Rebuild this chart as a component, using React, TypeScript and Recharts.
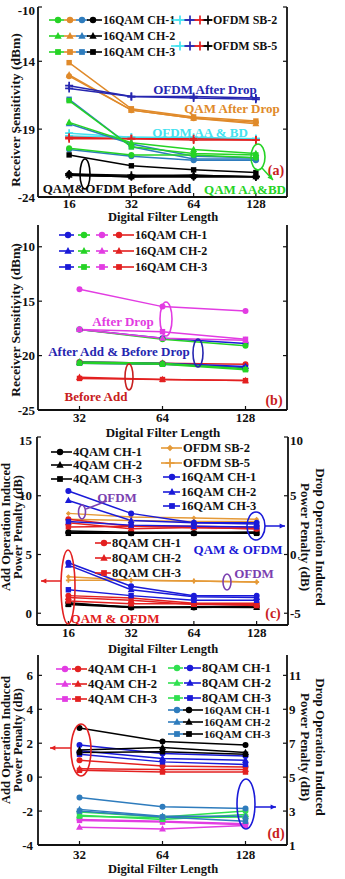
import React from "react";
import { LineChart, Line, XAxis, YAxis } from "recharts";

const FONT = "'Liberation Serif', 'DejaVu Serif', serif";

// filter lengths
const LEN_4 = ["16", "32", "64", "128"];
const LEN_3 = ["32", "64", "128"];

// (a) receiver sensitivity, dBm — rows are CH-1..CH-3 or SB-2/SB-5
const A_QAM_GREEN = [
  [-20.4, -20.9, -20.9, -21.1],
  [-18.5, -20.0, -20.5, -20.8],
  [-16.9, -20.3, -20.8, -20.9],
];
const A_QAM_ORANGE = [
  [-15.1, -17.6, -18.2, -18.5],
  [-15.0, -17.6, -18.2, -18.6],
  [-14.1, -17.5, -18.1, -18.4],
];
const A_QAM_STEEL = [
  [-20.5, -21.0, -21.3, -21.3],
  [-18.6, -20.1, -21.0, -21.1],
  [-16.8, -20.3, -21.2, -21.2],
];
const A_QAM_BLACK = [
  [-22.3, -22.5, -22.5, -22.5],
  [-22.4, -22.5, -22.4, -22.5],
  [-20.9, -21.7, -22.0, -22.2],
];
const A_OFDM_CYAN = [
  [-19.3, -19.6, -19.7, -19.7],
  [-19.5, -19.6, -19.6, -19.7],
];
const A_OFDM_NAVY = [
  [-15.8, -16.6, -16.6, -16.7],
  [-16.0, -16.6, -16.7, -16.8],
];
const A_OFDM_RED = [
  [-19.6, -19.7, -19.7, -19.8],
  [-19.7, -19.7, -19.8, -19.8],
];
const A_OFDM_BLACK = [
  [-22.3, -22.4, -22.4, -22.5],
  [-22.4, -22.5, -22.5, -22.5],
];

// (b) receiver sensitivity, dBm
const B_BLUE = [
  [-17.6, -18.4, -18.9],
  [-20.6, -20.7, -21.0],
  [-20.7, -20.8, -21.1],
];
const B_GREEN = [
  [-17.6, -18.5, -19.1],
  [-20.6, -20.7, -21.2],
  [-20.7, -20.8, -21.3],
];
const B_MAGENTA = [
  [-13.9, -15.5, -15.9],
  [-17.6, -18.4, -18.6],
  [-17.6, -17.8, -18.5],
];
const B_RED = [
  [-20.6, -20.7, -20.8],
  [-22.0, -22.2, -22.3],
  [-22.1, -22.2, -22.3],
];

// (c) add penalty (left axis) and drop penalty (right axis), dB
const C_ADD_4QAM = [
  [0.9, 0.5, 0.5, 0.55],
  [0.8, 0.55, 0.5, 0.5],
  [0.75, 0.5, 0.55, 0.6],
];
const C_ADD_8QAM = [
  [1.5, 1.3, 0.85, 0.85],
  [1.35, 1.1, 0.75, 0.75],
  [1.05, 0.8, 0.8, 0.65],
];
const C_ADD_16QAM = [
  [4.3, 2.3, 1.5, 1.5],
  [4.1, 2.0, 1.4, 1.35],
  [2.0, 1.5, 1.1, 1.1],
];
const C_ADD_OFDM = [
  [3.1, 2.8, 2.75, 2.65],
  [2.8, 2.8, 2.75, 2.65],
];
const C_DROP_4QAM = [
  [1.9, 1.8, 1.8, 1.9],
  [2.0, 1.9, 1.9, 1.9],
  [1.8, 1.8, 1.8, 1.8],
];
const C_DROP_8QAM = [
  [3.0, 2.4, 2.3, 2.2],
  [2.7, 2.2, 2.3, 2.2],
  [2.35, 2.4, 2.4, 2.3],
];
const C_DROP_16QAM = [
  [5.4, 3.5, 2.7, 2.7],
  [4.6, 2.9, 2.7, 2.6],
  [2.8, 2.5, 2.4, 2.35],
];
const C_DROP_OFDM = [
  [3.5, 3.2, 3.1, 3.0],
  [3.0, 2.9, 2.8, 2.8],
];

// (d) add penalty (left axis) and drop penalty (right axis), dB
const D_ADD_4QAM = [
  [1.0, 0.65, 0.6],
  [0.5, 0.45, 0.45],
  [0.4, 0.3, 0.3],
];
const D_ADD_8QAM = [
  [1.9, 1.4, 1.25],
  [1.55, 1.1, 1.0],
  [1.35, 0.9, 0.75],
];
const D_ADD_16QAM = [
  [2.9, 2.1, 1.9],
  [1.6, 1.75, 1.45],
  [1.45, 1.5, 1.35],
];
const D_DROP_4QAM = [
  [2.5, 2.4, 2.25],
  [2.05, 1.95, 2.15],
  [2.45, 2.35, 2.2],
];
const D_DROP_8QAM = [
  [2.95, 2.65, 3.0],
  [2.75, 2.5, 2.8],
  [2.7, 2.6, 2.65],
];
const D_DROP_16QAM = [
  [3.8, 3.25, 3.15],
  [3.1, 2.7, 2.7],
  [3.0, 2.65, 2.4],
];

const GREEN = "#25d325";
const ORANGE = "#e08a2a";
const STEEL = "#2e7cbd";
const BLACK = "#000000";
const CYAN = "#44e2f0";
const NAVY = "#2626b0";
const RED = "#e32020";
const MAGENTA = "#e23ce2";
const BLUE = "#1a1ad8";
const ORANGE_C = "#e59a38";
const PURPLE = "#7b40b0";
const GREEN_D = "#30e050";

type Shape = "circle" | "triangle" | "square" | "plus" | "diamond";
const CH: Shape[] = ["circle", "triangle", "square"];
const SB: Shape[] = ["diamond", "plus"];

type Spec = { key: string; values: number[]; color: string; shape: Shape; axis: "l" | "r"; r: number };

function group(id: string, rows: number[][], color: string, axis: "l" | "r", shapes: Shape[] = CH, r = 3): Spec[] {
  return rows.map((values, k) => ({ key: `${id}${k}`, values, color, shape: shapes[k], axis, r }));
}

function Marker({ cx, cy, shape, color, r = 3 }: { cx: number; cy: number; shape: Shape; color: string; r?: number }) {
  switch (shape) {
    case "triangle":
      return (
        <polygon
          points={`${cx},${cy - r * 1.25} ${cx - r * 1.15},${cy + r * 0.85} ${cx + r * 1.15},${cy + r * 0.85}`}
          fill={color}
        />
      );
    case "square":
      return <rect x={cx - r * 0.9} y={cy - r * 0.9} width={r * 1.8} height={r * 1.8} fill={color} />;
    case "plus":
      return <path d={`M${cx - r},${cy}H${cx + r}M${cx},${cy - r}V${cy + r}`} stroke={color} strokeWidth={1.7} fill="none" />;
    case "diamond":
      return <polygon points={`${cx},${cy - r} ${cx + r},${cy} ${cx},${cy + r} ${cx - r},${cy}`} fill={color} />;
    default:
      return <circle cx={cx} cy={cy} r={r} fill={color} />;
  }
}

const makeDot = (s: Spec) => (p: any) => (
  <g key={`${s.key}-${p.index}`}>
    {p.cx != null && p.cy != null ? <Marker cx={p.cx} cy={p.cy} shape={s.shape} color={s.color} r={s.r} /> : null}
  </g>
);

function buildRows(lengths: string[], specs: Spec[]) {
  return lengths.map((len, i) => {
    const row: Record<string, number | string> = { x: i + 1, len };
    specs.forEach((s) => {
      row[s.key] = s.values[i];
    });
    return row;
  });
}

type PanelProps = {
  top: number;
  bottom: number;
  left: number;
  right: number;
  lengths: string[];
  specs: Spec[];
  yDomain: [number, number];
  yTicks: number[];
  rDomain: [number, number];
  rTicks: number[];
  showRight: boolean;
  xTickMargin: number;
  yTickMargin: number;
};

const tickStyle = { fill: "#111", fontSize: 13, fontWeight: 700, fontFamily: FONT };
const axisLine = { stroke: "#111", strokeWidth: 1.8 };
const tickLine = { stroke: "#111", strokeWidth: 1.2 };

function Panel(p: PanelProps) {
  const mTop = 5;
  const xH = 26;
  const height = p.bottom - p.top + mTop + xH;
  const n = p.lengths.length;
  const xTicks = p.lengths.map((_, i) => i + 1);
  const rows = buildRows(p.lengths, p.specs);
  const empty = () => "";
  return (
    <div style={{ position: "absolute", left: 0, top: p.top - mTop }}>
      <LineChart width={345} height={height} data={rows} margin={{ top: mTop, right: 0, bottom: 0, left: 0 }}>
        <XAxis
          xAxisId="b"
          dataKey="x"
          type="number"
          domain={[0.5, n + 0.5]}
          ticks={xTicks}
          tickFormatter={(v: number) => p.lengths[v - 1]}
          height={xH}
          tickSize={-4}
          tickMargin={p.xTickMargin}
          axisLine={axisLine}
          tickLine={tickLine}
          tick={tickStyle}
        />
        <XAxis
          xAxisId="t"
          orientation="top"
          dataKey="x"
          type="number"
          domain={[0.5, n + 0.5]}
          ticks={xTicks}
          tickFormatter={empty}
          height={0}
          tickSize={-4}
          axisLine={axisLine}
          tickLine={tickLine}
        />
        <YAxis
          yAxisId="l"
          type="number"
          width={p.left}
          domain={p.yDomain}
          ticks={p.yTicks}
          allowDataOverflow
          tickSize={-4}
          tickMargin={p.yTickMargin}
          axisLine={axisLine}
          tickLine={tickLine}
          tick={tickStyle}
        />
        <YAxis
          yAxisId="r"
          orientation="right"
          type="number"
          width={345 - p.right}
          domain={p.rDomain}
          ticks={p.rTicks}
          allowDataOverflow
          tickSize={-4}
          tickMargin={6}
          tickFormatter={p.showRight ? undefined : empty}
          axisLine={axisLine}
          tickLine={tickLine}
          tick={tickStyle}
        />
        {p.specs.map((s) => (
          <Line
            key={s.key}
            xAxisId="b"
            yAxisId={s.axis}
            dataKey={s.key}
            stroke={s.color}
            strokeWidth={1.5}
            dot={makeDot(s)}
            activeDot={false}
            isAnimationActive={false}
          />
        ))}
      </LineChart>
    </div>
  );
}

const SPECS_A: Spec[] = [
  ...group("aqo", A_QAM_ORANGE, ORANGE, "l"),
  ...group("aon", A_OFDM_NAVY, NAVY, "l", ["plus", "plus"], 4),
  ...group("aoc", A_OFDM_CYAN, CYAN, "l", ["plus", "plus"], 4),
  ...group("aor", A_OFDM_RED, RED, "l", ["plus", "plus"], 4),
  ...group("aqs", A_QAM_STEEL, STEEL, "l"),
  ...group("aqg", A_QAM_GREEN, GREEN, "l"),
  ...group("aqb", A_QAM_BLACK, BLACK, "l"),
  ...group("aob", A_OFDM_BLACK, BLACK, "l", ["plus", "plus"], 4),
];

const SPECS_B: Spec[] = [
  ...group("br", B_RED, RED, "l"),
  ...group("bb", B_BLUE, BLUE, "l"),
  ...group("bg", B_GREEN, GREEN, "l"),
  ...group("bm", B_MAGENTA, MAGENTA, "l"),
];

const SPECS_C: Spec[] = [
  ...group("cao", C_ADD_OFDM, ORANGE_C, "l", SB, 2.5),
  ...group("ca4", C_ADD_4QAM, BLACK, "l"),
  ...group("ca8", C_ADD_8QAM, RED, "l"),
  ...group("ca16", C_ADD_16QAM, BLUE, "l"),
  ...group("cdo", C_DROP_OFDM, ORANGE_C, "r", SB, 2.5),
  ...group("cd4", C_DROP_4QAM, BLACK, "r"),
  ...group("cd8", C_DROP_8QAM, RED, "r"),
  ...group("cd16", C_DROP_16QAM, BLUE, "r"),
];

const SPECS_D: Spec[] = [
  ...group("dd4", D_DROP_4QAM, MAGENTA, "r"),
  ...group("dd8", D_DROP_8QAM, GREEN_D, "r"),
  ...group("dd16", D_DROP_16QAM, STEEL, "r"),
  ...group("da4", D_ADD_4QAM, RED, "l"),
  ...group("da8", D_ADD_8QAM, BLUE, "l"),
  ...group("da16", D_ADD_16QAM, BLACK, "l"),
];

type Mark = [number, string, Shape];

function LegendItem({ y, marks, text, tx, size = 12.5, end }: { y: number; marks: Mark[]; text: string; tx: number; size?: number; end?: number }) {
  const last = end ?? tx - 1;
  return (
    <g>
      {marks.map(([cx, color], i) => (
        <line
          key={`l${i}`}
          x1={i === 0 ? cx - 9 : cx - 6}
          x2={i === marks.length - 1 ? last : cx + 6}
          y1={y}
          y2={y}
          stroke={color}
          strokeWidth={1.6}
        />
      ))}
      {marks.map(([cx, color, shape], i) => (
        <Marker key={`m${i}`} cx={cx} cy={y} shape={shape} color={color} r={shape === "plus" ? 4.5 : 3.2} />
      ))}
      <text x={tx} y={y} dy="0.35em" fontFamily={FONT} fontWeight={700} fontSize={size} fill="#111">
        {text}
      </text>
    </g>
  );
}

function Label({ x, y, children, color = "#111", size = 13, anchor = "middle", rotate = 0 }: any) {
  return (
    <text
      x={x}
      y={y}
      dy="0.35em"
      textAnchor={anchor}
      fontFamily={FONT}
      fontWeight={700}
      fontSize={size}
      fill={color}
      transform={rotate ? `rotate(${rotate} ${x} ${y})` : undefined}
    >
      {children}
    </text>
  );
}

function Arrow({ x1, y1, x2, y2, color }: { x1: number; y1: number; x2: number; y2: number; color: string }) {
  const a = Math.atan2(y2 - y1, x2 - x1);
  const h = 6;
  const p1 = `${x2 - h * Math.cos(a - 0.45)},${y2 - h * Math.sin(a - 0.45)}`;
  const p2 = `${x2 - h * Math.cos(a + 0.45)},${y2 - h * Math.sin(a + 0.45)}`;
  return (
    <g>
      <line x1={x1} y1={y1} x2={x2} y2={y2} stroke={color} strokeWidth={1.5} />
      <polygon points={`${x2},${y2} ${p1} ${p2}`} fill={color} />
    </g>
  );
}

function Ell({ cx, cy, rx, ry, color }: { cx: number; cy: number; rx: number; ry: number; color: string }) {
  return <ellipse cx={cx} cy={cy} rx={rx} ry={ry} fill="none" stroke={color} strokeWidth={1.6} />;
}

function Overlay() {
  const qa = (shape: Shape): Mark[] => [
    [58, GREEN, shape],
    [70, ORANGE, shape],
    [82, STEEL, shape],
    [93, BLACK, shape],
  ];
  const oa: Mark[] = [
    [180, CYAN, "plus"],
    [190, NAVY, "plus"],
    [200, RED, "plus"],
    [208, BLACK, "plus"],
  ];
  const qb = (shape: Shape): Mark[] => [
    [68, BLUE, shape],
    [84, GREEN, shape],
    [102, MAGENTA, shape],
    [119, RED, shape],
  ];
  return (
    <svg width={345} height={879} style={{ position: "absolute", left: 0, top: 0, pointerEvents: "none" }}>
      {/* (a) */}
      <LegendItem y={20} marks={qa("circle")} text="16QAM CH-1" tx={103} size={12} />
      <LegendItem y={36} marks={qa("triangle")} text="16QAM CH-2" tx={103} size={12} />
      <LegendItem y={52} marks={qa("square")} text="16QAM CH-3" tx={103} size={12} />
      <LegendItem y={20} marks={oa} text="OFDM SB-2" tx={213} size={12} />
      <LegendItem y={46} marks={oa} text="OFDM SB-5" tx={213} size={12} />
      <Label x={205} y={89} color={NAVY}>OFDM After Drop</Label>
      <Label x={232} y={108} color={ORANGE}>QAM After Drop</Label>
      <Label x={200} y={132} color={CYAN}>OFDM AA &amp; BD</Label>
      <Label x={117} y={188}>QAM&amp;OFDM Before Add</Label>
      <Label x={245} y={189} color={GREEN}>QAM AA&amp;BD</Label>
      <Label x={276} y={170} color="#c82020" size={14}>(a)</Label>
      <Ell cx={85} cy={174} rx={5} ry={15} color={BLACK} />
      <Ell cx={258} cy={157} rx={7} ry={13} color={GREEN} />
      <Arrow x1={262} y1={168} x2={273} y2={180} color={GREEN} />
      <Label x={15} y={110} size={13.5} rotate={-90}>Receiver Sensitivity (dBm)</Label>
      <Label x={163} y={217} size={12.5}>Digital Filter Length</Label>

      {/* (b) */}
      <LegendItem y={235} marks={qb("circle")} text="16QAM CH-1" tx={135} size={12} />
      <LegendItem y={251} marks={qb("triangle")} text="16QAM CH-2" tx={135} size={12} />
      <LegendItem y={267} marks={qb("square")} text="16QAM CH-3" tx={135} size={12} />
      <Label x={123} y={321} color={MAGENTA}>After Drop</Label>
      <Ell cx={166} cy={319} rx={6} ry={17} color={MAGENTA} />
      <Label x={119} y={351} color={NAVY}>After Add &amp; Before Drop</Label>
      <Ell cx={198} cy={353} rx={5} ry={14} color={NAVY} />
      <Ell cx={129} cy={377} rx={4} ry={13} color="#c82020" />
      <Label x={96} y={396} color="#c82020">Before Add</Label>
      <Label x={274} y={400} color="#c82020" size={14}>(b)</Label>
      <Label x={15} y={320} size={13.5} rotate={-90}>Receiver Sensitivity (dBm)</Label>
      <Label x={163} y={432}>Digital Filter Length</Label>

      {/* (c) */}
      <LegendItem y={452} marks={[[60, BLACK, "circle"]]} text="4QAM CH-1" tx={73} />
      <LegendItem y={465} marks={[[60, BLACK, "triangle"]]} text="4QAM CH-2" tx={73} />
      <LegendItem y={479} marks={[[60, BLACK, "square"]]} text="4QAM CH-3" tx={73} />
      <LegendItem y={448} marks={[[170, ORANGE_C, "diamond"]]} text="OFDM SB-2" tx={183} />
      <LegendItem y={463} marks={[[170, ORANGE_C, "plus"]]} text="OFDM SB-5" tx={183} />
      <LegendItem y={477} marks={[[172, BLUE, "circle"]]} text="16QAM CH-1" tx={181} />
      <LegendItem y={492} marks={[[172, BLUE, "triangle"]]} text="16QAM CH-2" tx={181} />
      <LegendItem y={506} marks={[[172, BLUE, "square"]]} text="16QAM CH-3" tx={181} />
      <LegendItem y={543} marks={[[104, RED, "circle"]]} text="8QAM CH-1" tx={112} />
      <LegendItem y={558} marks={[[104, RED, "triangle"]]} text="8QAM CH-2" tx={112} />
      <LegendItem y={573} marks={[[104, RED, "square"]]} text="8QAM CH-3" tx={112} />
      <Label x={117} y={497} color={PURPLE}>OFDM</Label>
      <Ell cx={82} cy={512} rx={3.5} ry={7} color={PURPLE} />
      <line x1={86} y1={509} x2={107} y2={501} stroke={PURPLE} strokeWidth={1.4} />
      <Ell cx={256} cy={526} rx={9} ry={14} color={BLUE} />
      <Arrow x1={265} y1={526} x2={285} y2={526} color={BLUE} />
      <Label x={238} y={549} color={BLUE}>QAM &amp; OFDM</Label>
      <Ell cx={227} cy={582} rx={4} ry={8} color={PURPLE} />
      <Label x={254} y={573} color={PURPLE}>OFDM</Label>
      <Ell cx={68} cy={587} rx={7} ry={37} color={RED} />
      <Arrow x1={61} y1={581} x2={41} y2={581} color={RED} />
      <Label x={115} y={618} color={RED}>QAM &amp; OFDM</Label>
      <Label x={273} y={613} color="#c82020" size={14}>(c)</Label>
      <Label x={6} y={527} size={12.5} rotate={-90}>Add Operation Induced</Label>
      <Label x={18} y={527} size={12.5} rotate={-90}>Power Penalty (dB)</Label>
      <Label x={321} y={537} rotate={90}>Drop Operation Induced</Label>
      <Label x={306} y={537} rotate={90}>Power Penalty (dB)</Label>
      <Label x={163} y={649} size={12.5}>Digital Filter Length</Label>

      {/* (d) */}
      <LegendItem y={669} marks={[[65, MAGENTA, "circle"], [78, RED, "circle"]]} text="4QAM CH-1" tx={88} />
      <LegendItem y={684} marks={[[65, MAGENTA, "triangle"], [78, RED, "triangle"]]} text="4QAM CH-2" tx={88} />
      <LegendItem y={699} marks={[[65, MAGENTA, "square"], [78, RED, "square"]]} text="4QAM CH-3" tx={88} />
      <LegendItem y={668} marks={[[177, GREEN_D, "circle"], [190, BLUE, "circle"]]} text="8QAM CH-1" tx={202} />
      <LegendItem y={683} marks={[[177, GREEN_D, "triangle"], [190, BLUE, "triangle"]]} text="8QAM CH-2" tx={202} />
      <LegendItem y={698} marks={[[177, GREEN_D, "square"], [190, BLUE, "square"]]} text="8QAM CH-3" tx={202} />
      <LegendItem y={710} marks={[[177, STEEL, "circle"], [189, BLACK, "circle"]]} text="16QAM CH-1" tx={204} size={11} />
      <LegendItem y={722} marks={[[177, STEEL, "triangle"], [189, BLACK, "triangle"]]} text="16QAM CH-2" tx={204} size={11} />
      <LegendItem y={734} marks={[[177, STEEL, "square"], [189, BLACK, "square"]]} text="16QAM CH-3" tx={204} size={11} />
      <Ell cx={81} cy={750} rx={10} ry={26} color={RED} />
      <Arrow x1={71} y1={748} x2={50} y2={748} color={RED} />
      <Ell cx={246} cy={804} rx={9} ry={25} color={BLUE} />
      <Arrow x1={255} y1={807} x2={276} y2={807} color={BLUE} />
      <Label x={276} y={833} color="#c82020" size={14}>(d)</Label>
      <Label x={6} y={740} size={12.5} rotate={-90}>Add Operation Induced</Label>
      <Label x={18} y={740} size={12.5} rotate={-90}>Power Penalty (dB)</Label>
      <Label x={321} y={747} rotate={90}>Drop Operation Induced</Label>
      <Label x={306} y={747} rotate={90}>Power Penalty (dB)</Label>
      <Label x={163} y={869} size={12.5}>Digital Filter Length</Label>
    </svg>
  );
}

export default function App() {
  return (
    <div style={{ position: "absolute", left: 0, top: 0, width: 345, height: 879, background: "#fff", overflow: "hidden" }}>
      <Panel
        top={7}
        bottom={197}
        left={38}
        right={287}
        lengths={LEN_4}
        specs={SPECS_A}
        yDomain={[-24, -10]}
        yTicks={[-24, -19, -14, -10]}
        rDomain={[-24, -10]}
        rTicks={[-24, -19, -14, -10]}
        showRight={false}
        xTickMargin={6}
        yTickMargin={7}
      />
      <Panel
        top={225}
        bottom={410}
        left={38}
        right={287}
        lengths={LEN_3}
        specs={SPECS_B}
        yDomain={[-25, -8]}
        yTicks={[-25, -20, -15, -10]}
        rDomain={[-25, -8]}
        rTicks={[-25, -20, -15, -10]}
        showRight={false}
        xTickMargin={7}
        yTickMargin={7}
      />
      <Panel
        top={437}
        bottom={625}
        left={37}
        right={288}
        lengths={LEN_4}
        specs={SPECS_C}
        yDomain={[-1, 15]}
        yTicks={[0, 5, 10, 15]}
        rDomain={[-6, 10]}
        rTicks={[-5, 0, 5, 10]}
        showRight={true}
        xTickMargin={7}
        yTickMargin={9}
      />
      <Panel
        top={655}
        bottom={845}
        left={38}
        right={287}
        lengths={LEN_3}
        specs={SPECS_D}
        yDomain={[-4, 7.2]}
        yTicks={[-4, -2, 0, 2, 4, 6]}
        rDomain={[1, 12.2]}
        rTicks={[1, 3, 5, 7, 9, 11]}
        showRight={true}
        xTickMargin={9}
        yTickMargin={9}
      />
      <Overlay />
    </div>
  );
}
